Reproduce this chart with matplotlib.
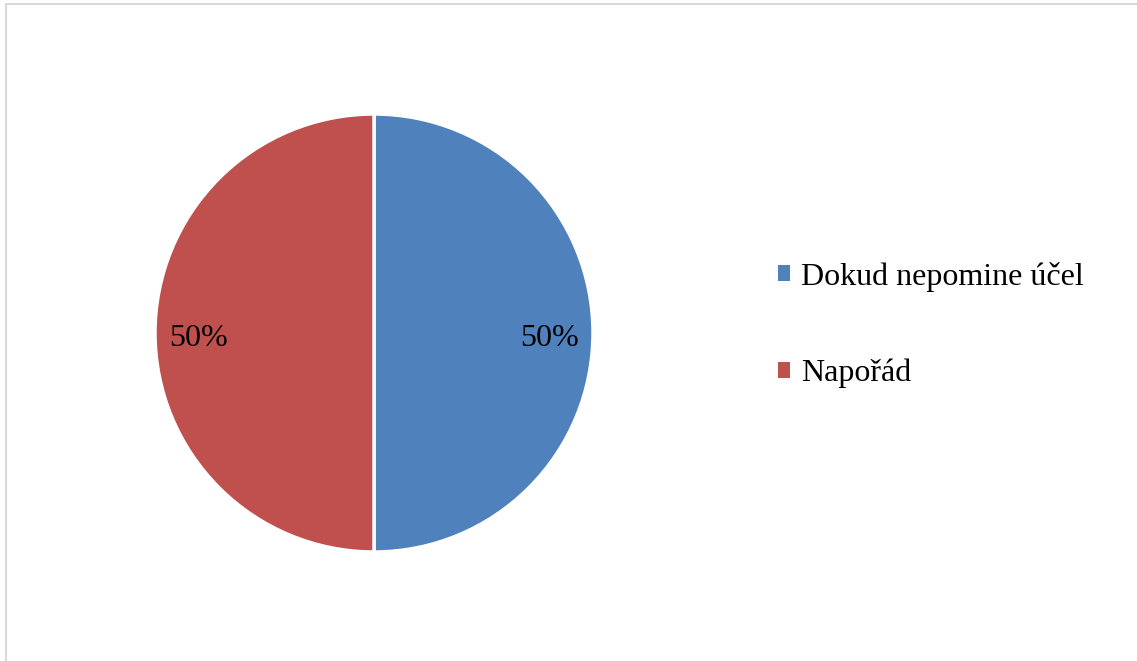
import matplotlib.pyplot as plt
from matplotlib.patches import Rectangle, Patch

# data
categories = ["Dokud nepomine účel", "Napořád"]
shares = [50, 50]
colors = ["#4F81BD", "#C0504D"]

W, H = 1137, 661
font_size = 23

plt.rcParams["font.family"] = ["Liberation Serif", "DejaVu Serif"]

fig = plt.figure(figsize=(W / 100, H / 100), dpi=100)
fig.patch.set_facecolor("white")

# thin grey frame around the chart area
fig.patches.append(Rectangle((6 / W, -0.01), 1.2, (H - 4) / H + 0.01,
                             transform=fig.transFigure, fill=False,
                             edgecolor="#d9d9d9", linewidth=1.5))

cx, cy, r = 374, 333, 219
ax = fig.add_axes([(cx - r) / W, (H - cy - r) / H, 2 * r / W, 2 * r / H])
wedges, texts, autotexts = ax.pie(
    shares, colors=colors, startangle=90, counterclock=False, radius=1,
    autopct="%d%%", pctdistance=0.8,
    wedgeprops=dict(edgecolor="white", linewidth=2.5),
    textprops=dict(fontsize=font_size, color="black"))
# nudge percentage labels a little lower
for t in autotexts:
    x, y = t.get_position()
    t.set_position((x, y - 0.025))
ax.set_xlim(-1, 1)
ax.set_ylim(-1, 1)
ax.set_aspect("equal")
ax.axis("off")

handles = [Patch(facecolor=c, edgecolor="none") for c in colors]
fig.legend(handles, categories, loc="center left",
           bbox_to_anchor=(749 / W, (H - 325) / H),
           frameon=False, fontsize=font_size,
           handlelength=0.38, handleheight=0.38, handletextpad=0.35,
           labelspacing=2.1)

fig.savefig("out.png", dpi=100)
